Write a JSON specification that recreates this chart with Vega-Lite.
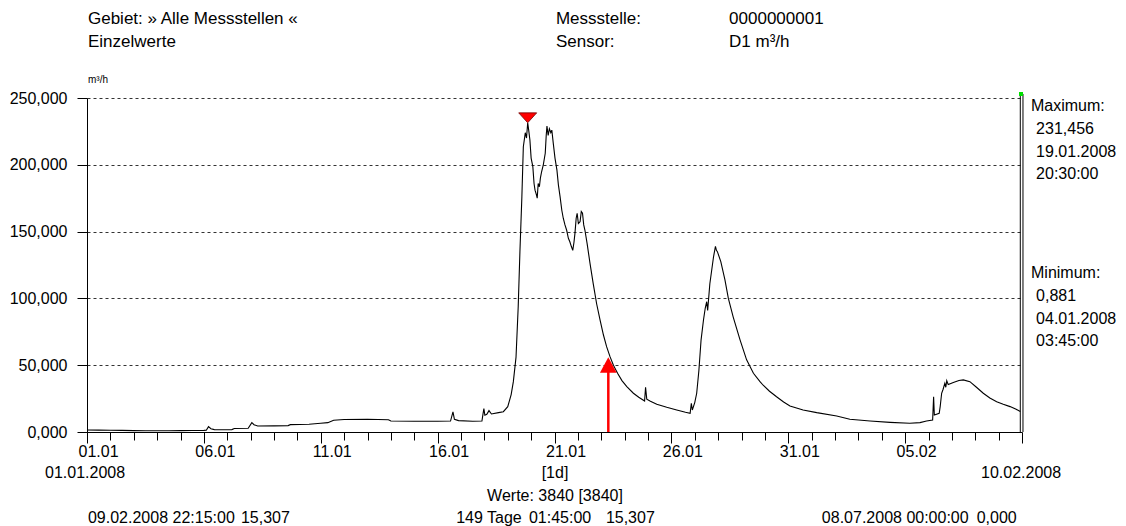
{
  "$schema": "https://vega.github.io/schema/vega-lite/v6.json",
  "width": 935,
  "height": 334,
  "autosize": {"type": "none"},
  "padding": {"left": 87, "top": 98, "right": 104, "bottom": 94},
  "background": "white",
  "config": {"view": {"stroke": null}, "font": "Liberation Sans"},
  "datasets": {
    "series": [
      {"t": "2008-01-01T00:00:00Z", "v": 1.5},
      {"t": "2008-01-01T12:00:00Z", "v": 1.4},
      {"t": "2008-01-02T00:00:00Z", "v": 1.3},
      {"t": "2008-01-02T12:00:00Z", "v": 1.2},
      {"t": "2008-01-03T00:00:00Z", "v": 1.0},
      {"t": "2008-01-03T12:00:00Z", "v": 0.95},
      {"t": "2008-01-04T03:45:00Z", "v": 0.881},
      {"t": "2008-01-04T12:00:00Z", "v": 0.95},
      {"t": "2008-01-05T00:00:00Z", "v": 1.0},
      {"t": "2008-01-05T12:00:00Z", "v": 1.1},
      {"t": "2008-01-06T00:00:00Z", "v": 1.2},
      {"t": "2008-01-06T02:30:00Z", "v": 1.3},
      {"t": "2008-01-06T04:45:00Z", "v": 4.0},
      {"t": "2008-01-06T07:15:00Z", "v": 2.5},
      {"t": "2008-01-06T10:45:00Z", "v": 1.8},
      {"t": "2008-01-06T19:15:00Z", "v": 1.7},
      {"t": "2008-01-07T04:45:00Z", "v": 1.8},
      {"t": "2008-01-07T07:15:00Z", "v": 2.6},
      {"t": "2008-01-07T21:30:00Z", "v": 2.8},
      {"t": "2008-01-08T01:15:00Z", "v": 7.0},
      {"t": "2008-01-08T03:30:00Z", "v": 5.5},
      {"t": "2008-01-08T07:15:00Z", "v": 4.5},
      {"t": "2008-01-09T00:00:00Z", "v": 4.6},
      {"t": "2008-01-09T14:30:00Z", "v": 4.8},
      {"t": "2008-01-09T16:45:00Z", "v": 5.5},
      {"t": "2008-01-10T12:00:00Z", "v": 5.8},
      {"t": "2008-01-11T00:00:00Z", "v": 6.5},
      {"t": "2008-01-11T07:15:00Z", "v": 7.0},
      {"t": "2008-01-11T13:15:00Z", "v": 8.8},
      {"t": "2008-01-12T00:00:00Z", "v": 9.3},
      {"t": "2008-01-13T00:00:00Z", "v": 9.5},
      {"t": "2008-01-13T21:30:00Z", "v": 9.2},
      {"t": "2008-01-14T00:00:00Z", "v": 8.2},
      {"t": "2008-01-15T00:00:00Z", "v": 8.0},
      {"t": "2008-01-16T00:00:00Z", "v": 8.0},
      {"t": "2008-01-16T13:15:00Z", "v": 8.2},
      {"t": "2008-01-16T15:45:00Z", "v": 15.0},
      {"t": "2008-01-16T17:15:00Z", "v": 9.5},
      {"t": "2008-01-16T21:30:00Z", "v": 8.5},
      {"t": "2008-01-17T12:00:00Z", "v": 8.0},
      {"t": "2008-01-17T21:30:00Z", "v": 8.2},
      {"t": "2008-01-17T22:30:00Z", "v": 13.0},
      {"t": "2008-01-17T23:30:00Z", "v": 17.5},
      {"t": "2008-01-18T00:30:00Z", "v": 12.5},
      {"t": "2008-01-18T02:30:00Z", "v": 13.2},
      {"t": "2008-01-18T04:45:00Z", "v": 16.0},
      {"t": "2008-01-18T07:15:00Z", "v": 13.5},
      {"t": "2008-01-18T14:30:00Z", "v": 14.5},
      {"t": "2008-01-18T19:30:00Z", "v": 15.2},
      {"t": "2008-01-19T00:00:00Z", "v": 19.0},
      {"t": "2008-01-19T03:30:00Z", "v": 28.0},
      {"t": "2008-01-19T05:45:00Z", "v": 37.7},
      {"t": "2008-01-19T08:30:00Z", "v": 56.0},
      {"t": "2008-01-19T10:45:00Z", "v": 94.0},
      {"t": "2008-01-19T12:30:00Z", "v": 135.0},
      {"t": "2008-01-19T14:30:00Z", "v": 176.0},
      {"t": "2008-01-19T16:00:00Z", "v": 213.5},
      {"t": "2008-01-19T18:00:00Z", "v": 224.0},
      {"t": "2008-01-19T19:15:00Z", "v": 220.0},
      {"t": "2008-01-19T20:30:00Z", "v": 231.456},
      {"t": "2008-01-19T21:30:00Z", "v": 226.0},
      {"t": "2008-01-19T22:45:00Z", "v": 218.6},
      {"t": "2008-01-20T00:00:00Z", "v": 205.0},
      {"t": "2008-01-20T01:45:00Z", "v": 198.6},
      {"t": "2008-01-20T03:00:00Z", "v": 186.0},
      {"t": "2008-01-20T04:00:00Z", "v": 181.0},
      {"t": "2008-01-20T05:15:00Z", "v": 178.0},
      {"t": "2008-01-20T06:15:00Z", "v": 175.0},
      {"t": "2008-01-20T07:15:00Z", "v": 186.0},
      {"t": "2008-01-20T08:30:00Z", "v": 183.6},
      {"t": "2008-01-20T09:30:00Z", "v": 190.0},
      {"t": "2008-01-20T10:45:00Z", "v": 194.8},
      {"t": "2008-01-20T12:30:00Z", "v": 200.0},
      {"t": "2008-01-20T14:30:00Z", "v": 208.6},
      {"t": "2008-01-20T15:30:00Z", "v": 222.0},
      {"t": "2008-01-20T16:15:00Z", "v": 229.0},
      {"t": "2008-01-20T17:30:00Z", "v": 222.0},
      {"t": "2008-01-20T18:45:00Z", "v": 227.0},
      {"t": "2008-01-20T20:15:00Z", "v": 224.0},
      {"t": "2008-01-20T21:15:00Z", "v": 226.0},
      {"t": "2008-01-20T22:45:00Z", "v": 216.0},
      {"t": "2008-01-21T00:30:00Z", "v": 205.0},
      {"t": "2008-01-21T02:30:00Z", "v": 196.0},
      {"t": "2008-01-21T04:00:00Z", "v": 185.0},
      {"t": "2008-01-21T05:45:00Z", "v": 176.0},
      {"t": "2008-01-21T07:30:00Z", "v": 166.0},
      {"t": "2008-01-21T09:00:00Z", "v": 160.0},
      {"t": "2008-01-21T10:45:00Z", "v": 155.0},
      {"t": "2008-01-21T12:30:00Z", "v": 151.0},
      {"t": "2008-01-21T14:15:00Z", "v": 145.0},
      {"t": "2008-01-21T15:45:00Z", "v": 142.4},
      {"t": "2008-01-21T17:15:00Z", "v": 139.0},
      {"t": "2008-01-21T18:45:00Z", "v": 136.0},
      {"t": "2008-01-21T20:00:00Z", "v": 142.0},
      {"t": "2008-01-21T21:00:00Z", "v": 148.7},
      {"t": "2008-01-21T22:15:00Z", "v": 160.0},
      {"t": "2008-01-21T23:15:00Z", "v": 163.7},
      {"t": "2008-01-22T00:30:00Z", "v": 156.0},
      {"t": "2008-01-22T02:15:00Z", "v": 157.4},
      {"t": "2008-01-22T03:30:00Z", "v": 165.0},
      {"t": "2008-01-22T04:45:00Z", "v": 163.7},
      {"t": "2008-01-22T06:00:00Z", "v": 155.0},
      {"t": "2008-01-22T07:15:00Z", "v": 151.0},
      {"t": "2008-01-22T09:30:00Z", "v": 141.0},
      {"t": "2008-01-22T12:30:00Z", "v": 126.0},
      {"t": "2008-01-22T15:45:00Z", "v": 111.0},
      {"t": "2008-01-22T19:15:00Z", "v": 96.0},
      {"t": "2008-01-22T22:45:00Z", "v": 84.0},
      {"t": "2008-01-23T02:15:00Z", "v": 72.6},
      {"t": "2008-01-23T05:30:00Z", "v": 63.9},
      {"t": "2008-01-23T09:00:00Z", "v": 56.4},
      {"t": "2008-01-23T12:30:00Z", "v": 50.0},
      {"t": "2008-01-23T16:45:00Z", "v": 44.0},
      {"t": "2008-01-23T21:15:00Z", "v": 38.5},
      {"t": "2008-01-24T02:15:00Z", "v": 34.0},
      {"t": "2008-01-24T09:00:00Z", "v": 29.0},
      {"t": "2008-01-24T14:30:00Z", "v": 26.0},
      {"t": "2008-01-24T20:30:00Z", "v": 23.2},
      {"t": "2008-01-24T21:30:00Z", "v": 33.4},
      {"t": "2008-01-24T22:45:00Z", "v": 24.5},
      {"t": "2008-01-25T02:30:00Z", "v": 23.0},
      {"t": "2008-01-25T09:00:00Z", "v": 20.7},
      {"t": "2008-01-25T19:15:00Z", "v": 18.5},
      {"t": "2008-01-26T05:30:00Z", "v": 16.5},
      {"t": "2008-01-26T14:30:00Z", "v": 14.8},
      {"t": "2008-01-26T19:15:00Z", "v": 14.0},
      {"t": "2008-01-26T20:30:00Z", "v": 21.5},
      {"t": "2008-01-26T21:30:00Z", "v": 16.5},
      {"t": "2008-01-27T00:00:00Z", "v": 22.0},
      {"t": "2008-01-27T02:00:00Z", "v": 29.0},
      {"t": "2008-01-27T04:15:00Z", "v": 46.0},
      {"t": "2008-01-27T06:30:00Z", "v": 69.0},
      {"t": "2008-01-27T09:00:00Z", "v": 84.0},
      {"t": "2008-01-27T10:45:00Z", "v": 92.6},
      {"t": "2008-01-27T12:15:00Z", "v": 97.5},
      {"t": "2008-01-27T13:15:00Z", "v": 91.0},
      {"t": "2008-01-27T15:30:00Z", "v": 111.0},
      {"t": "2008-01-27T19:15:00Z", "v": 131.0},
      {"t": "2008-01-27T21:15:00Z", "v": 139.0},
      {"t": "2008-01-27T22:15:00Z", "v": 136.0},
      {"t": "2008-01-27T23:15:00Z", "v": 135.0},
      {"t": "2008-01-28T02:45:00Z", "v": 127.5},
      {"t": "2008-01-28T07:00:00Z", "v": 113.8},
      {"t": "2008-01-28T10:30:00Z", "v": 100.0},
      {"t": "2008-01-28T15:30:00Z", "v": 86.0},
      {"t": "2008-01-28T22:30:00Z", "v": 69.0},
      {"t": "2008-01-29T05:15:00Z", "v": 54.0},
      {"t": "2008-01-29T12:15:00Z", "v": 44.0},
      {"t": "2008-01-29T19:00:00Z", "v": 37.7},
      {"t": "2008-01-29T22:15:00Z", "v": 35.0},
      {"t": "2008-01-30T04:45:00Z", "v": 30.5},
      {"t": "2008-01-30T12:00:00Z", "v": 26.4},
      {"t": "2008-01-30T19:15:00Z", "v": 22.5},
      {"t": "2008-01-31T01:45:00Z", "v": 19.5},
      {"t": "2008-01-31T15:15:00Z", "v": 16.5},
      {"t": "2008-02-01T05:15:00Z", "v": 14.5},
      {"t": "2008-02-02T01:45:00Z", "v": 12.0},
      {"t": "2008-02-02T15:15:00Z", "v": 9.5},
      {"t": "2008-02-03T12:00:00Z", "v": 8.2},
      {"t": "2008-02-04T08:30:00Z", "v": 7.2},
      {"t": "2008-02-05T04:45:00Z", "v": 6.5},
      {"t": "2008-02-05T15:15:00Z", "v": 7.0},
      {"t": "2008-02-05T22:00:00Z", "v": 8.2},
      {"t": "2008-02-06T04:15:00Z", "v": 9.0},
      {"t": "2008-02-06T05:15:00Z", "v": 26.4},
      {"t": "2008-02-06T06:00:00Z", "v": 12.7},
      {"t": "2008-02-06T11:00:00Z", "v": 14.0},
      {"t": "2008-02-06T12:00:00Z", "v": 19.0},
      {"t": "2008-02-06T13:30:00Z", "v": 29.0},
      {"t": "2008-02-06T15:00:00Z", "v": 32.0},
      {"t": "2008-02-06T16:45:00Z", "v": 36.4},
      {"t": "2008-02-06T17:45:00Z", "v": 33.5},
      {"t": "2008-02-06T18:45:00Z", "v": 38.4},
      {"t": "2008-02-06T20:15:00Z", "v": 35.5},
      {"t": "2008-02-07T01:30:00Z", "v": 37.0},
      {"t": "2008-02-07T07:15:00Z", "v": 38.5},
      {"t": "2008-02-07T11:45:00Z", "v": 39.0},
      {"t": "2008-02-07T18:30:00Z", "v": 37.7},
      {"t": "2008-02-08T01:15:00Z", "v": 33.5},
      {"t": "2008-02-08T08:15:00Z", "v": 29.0},
      {"t": "2008-02-08T15:00:00Z", "v": 25.5},
      {"t": "2008-02-08T22:00:00Z", "v": 22.7},
      {"t": "2008-02-09T04:45:00Z", "v": 20.8},
      {"t": "2008-02-09T11:45:00Z", "v": 19.0},
      {"t": "2008-02-09T18:00:00Z", "v": 17.0},
      {"t": "2008-02-09T22:15:00Z", "v": 15.307}
    ],
    "maxPoint": [{"t": "2008-01-19T20:30:00Z", "v": 231.456}],
    "cursor": [{"t": "2008-01-23T07:15:00Z", "v": 55.9, "v0": 0, "v1": 45}],
    "edges": [
      {"t": "2008-02-09T22:15:00Z", "v": 0, "v2": 253},
      {"t": "2008-02-10T01:00:00Z", "v": 0, "v2": 253}
    ],
    "marker": [{"t": "2008-02-09T23:00:00Z", "v": 253}],
    "header": [
      {"t": "2008-01-01T01:00:00Z", "v": 309.1, "label": "Gebiet: » Alle Messstellen «"},
      {"t": "2008-01-01T01:00:00Z", "v": 291.9, "label": "Einzelwerte"},
      {"t": "2008-01-21T01:30:00Z", "v": 309.1, "label": "Messstelle:"},
      {"t": "2008-01-21T01:30:00Z", "v": 291.9, "label": "Sensor:"},
      {"t": "2008-01-28T11:15:00Z", "v": 309.1, "label": "0000000001"},
      {"t": "2008-01-28T11:15:00Z", "v": 291.9, "label": "D1 m³/h"}
    ],
    "unit": [{"t": "2008-01-01T01:00:00Z", "v": 263.5, "label": "m³/h"}],
    "notesLeft": [
      {"t": "2008-02-10T09:15:00Z", "v": 244.0, "label": "Maximum:"},
      {"t": "2008-02-10T14:30:00Z", "v": 226.8, "label": "231,456"},
      {"t": "2008-02-10T14:30:00Z", "v": 209.6, "label": "19.01.2008"},
      {"t": "2008-02-10T14:30:00Z", "v": 193.1, "label": "20:30:00"},
      {"t": "2008-02-10T09:15:00Z", "v": 119.0, "label": "Minimum:"},
      {"t": "2008-02-10T14:30:00Z", "v": 101.8, "label": "0,881"},
      {"t": "2008-02-10T14:30:00Z", "v": 84.6, "label": "04.01.2008"},
      {"t": "2008-02-10T14:30:00Z", "v": 68.1, "label": "03:45:00"},
      {"t": "2008-01-01T01:00:00Z", "v": -64.4, "label": "09.02.2008 22:15:00"},
      {"t": "2008-01-07T14:00:00Z", "v": -64.4, "label": "15,307"},
      {"t": "2008-01-16T19:00:00Z", "v": -64.4, "label": "149 Tage"},
      {"t": "2008-01-19T21:45:00Z", "v": -64.4, "label": "01:45:00"},
      {"t": "2008-01-23T04:45:00Z", "v": -64.4, "label": "15,307"},
      {"t": "2008-02-01T10:30:00Z", "v": -64.4, "label": "08.07.2008 00:00:00"},
      {"t": "2008-02-08T01:30:00Z", "v": -64.4, "label": "0,000"}
    ],
    "notesCenter": [
      {"t": "2007-12-31T22:00:00Z", "v": -30.7, "label": "01.01.2008"},
      {"t": "2008-01-21T00:30:00Z", "v": -30.7, "label": "[1d]"},
      {"t": "2008-02-09T23:00:00Z", "v": -30.7, "label": "10.02.2008"},
      {"t": "2008-01-21T00:30:00Z", "v": -47.9, "label": "Werte: 3840 [3840]"}
    ]
  },
  "encoding": {
    "x": {
      "field": "t",
      "type": "temporal",
      "scale": {"type": "utc", "domain": [{"year": 2008, "month": 1, "date": 1, "utc": true}, {"year": 2008, "month": 2, "date": 10, "utc": true}], "nice": false},
      "axis": {
        "title": null,
        "tickCount": {"interval": "day", "step": 1},
        "labelExpr": "(round((datum.value - utc(2008,0,1)) / 86400000) % 5 == 0 && round((datum.value - utc(2008,0,1)) / 86400000) < 40) ? utcFormat(datum.value, '%d.%m') : ''",
        "tickSize": {"condition": {"test": "round((datum.value - utc(2008,0,1)) / 86400000) % 5 == 0", "value": 11}, "value": 8},
        "tickColor": "black",
        "domainColor": "black",
        "labelColor": "black",
        "labelFontSize": 16,
        "labelFont": "Liberation Sans",
        "labelOffset": 11,
        "labelPadding": 0,
        "labelOverlap": false,
        "labelFlush": false,
        "grid": false
      }
    },
    "y": {
      "field": "v",
      "type": "quantitative",
      "scale": {"domain": [0, 250], "nice": false, "zero": true},
      "axis": {
        "title": null,
        "values": [0, 50, 100, 150, 200, 250],
        "labelExpr": "replace(format(datum.value, '.3f'), '.', ',')",
        "tickSize": 10,
        "tickColor": "black",
        "domainColor": "black",
        "labelColor": "black",
        "labelFontSize": 16,
        "labelFont": "Liberation Sans",
        "labelPadding": 10,
        "grid": true,
        "gridColor": "#333333",
        "gridDash": [3, 3],
        "gridWidth": 1
      }
    }
  },
  "layer": [
    {
      "data": {"name": "series"},
      "mark": {"type": "line", "color": "black", "strokeWidth": 1.1}
    },
    {
      "data": {"name": "edges"},
      "mark": {"type": "rule", "color": "black", "strokeWidth": 1},
      "encoding": {"y2": {"field": "v2"}}
    },
    {
      "data": {"name": "marker"},
      "mark": {"type": "point", "shape": "square", "filled": true, "color": "#00e000", "size": 16, "opacity": 1}
    },
    {
      "data": {"name": "maxPoint"},
      "mark": {"type": "point", "shape": "M-1,-1.1L1,-1.1L0,0Z", "filled": true, "color": "#ff0000", "stroke": "#700000", "strokeWidth": 0.8, "size": 324, "opacity": 1}
    },
    {
      "data": {"name": "cursor"},
      "mark": {"type": "rule", "color": "#ff0000", "strokeWidth": 2.5},
      "encoding": {"y": {"field": "v0", "type": "quantitative"}, "y2": {"field": "v1"}}
    },
    {
      "data": {"name": "cursor"},
      "mark": {"type": "point", "shape": "M0,0L1,1.85L-1,1.85Z", "filled": true, "color": "#ff0000", "size": 279, "opacity": 1}
    },
    {
      "data": {"name": "header"},
      "mark": {"type": "text", "align": "left", "baseline": "middle", "fontSize": 17, "font": "Liberation Sans", "color": "black"},
      "encoding": {"text": {"field": "label"}}
    },
    {
      "data": {"name": "unit"},
      "mark": {"type": "text", "align": "left", "baseline": "middle", "fontSize": 10, "font": "Liberation Sans", "color": "black"},
      "encoding": {"text": {"field": "label"}}
    },
    {
      "data": {"name": "notesLeft"},
      "mark": {"type": "text", "align": "left", "baseline": "middle", "fontSize": 16, "font": "Liberation Sans", "color": "black"},
      "encoding": {"text": {"field": "label"}}
    },
    {
      "data": {"name": "notesCenter"},
      "mark": {"type": "text", "align": "center", "baseline": "middle", "fontSize": 16, "font": "Liberation Sans", "color": "black"},
      "encoding": {"text": {"field": "label"}}
    }
  ]
}
